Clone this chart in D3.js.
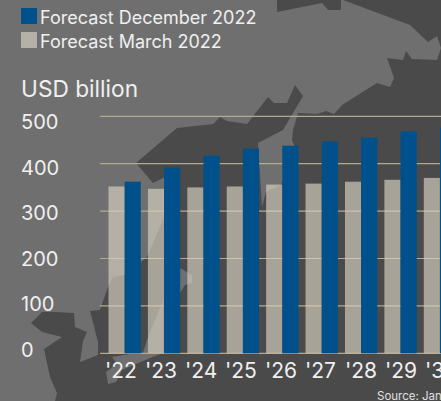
<!DOCTYPE html>
<html>
<head>
<meta charset="utf-8">
<script src="https://cdn.jsdelivr.net/npm/d3@7"></script>
<style>
html, body { margin: 0; padding: 0; background: #4a4a4a; overflow: hidden; }
svg { display: block; font-family: Inter, sans-serif; }
</style>
</head>
<body>
<div id="chart"></div>
<script>
// values, USD billion
var years = ["'22", "'23", "'24", "'25", "'26", "'27", "'28", "'29", "'30"];
var forecastMarch = [352, 347, 350, 352, 356, 358, 362, 366, 370];
var forecastDecember = [362, 392, 417, 432, 438, 447, 455, 468, 476];
var yTicks = [0, 100, 200, 300, 400, 500];
var legendLabels = ["Forecast December 2022", "Forecast March 2022"];

// backdrop map, only decoration behind the chart
var landShapes = [
    // Asian mainland with Korea and the Russian coast
    [[0,0],[277,0],[277,12],[322,3],[328,10],[341,10],[341,0],[343,0],[410,25],[428,42],[437,36],[441,48],[437,60],[412,59],[406,51],[403,60],[387,58],[394,78],[390,87],[377,83],[342,105],[334,114],[326,111],[317,114],[298,113],[293,130],[292,140],[295,147],[281,185],[266,192],[262,207],[258,143],[283,130],[303,96],[295,85],[287,103],[274,103],[268,97],[247,124],[227,121],[220,117],[213,124],[177,128],[136,163],[153,183],[165,177],[165,215],[147,257],[141,262],[125,275],[113,277],[108,287],[100,310],[90,311],[98,342],[98,355],[80,362],[83,341],[87,332],[75,327],[74,313],[55,312],[42,312],[31,323],[42,332],[62,337],[44,349],[50,377],[57,393],[55,401],[0,401]],
    // Hokkaido
    [[165,282],[180,268],[192,275],[192,283],[185,285],[180,293],[165,296]],
    // Honshu, Shikoku, Kyushu
    [[163,300],[147,340],[143,353],[130,354],[112,357],[117,364],[106,372],[108,384],[116,382],[122,370],[150,358],[163,353]]
];

var width = 441, height = 401;
var y0 = 353.3, y500 = 116.3;

var svg = d3.select("#chart").append("svg")
    .attr("width", width)
    .attr("height", height);

svg.append("rect")
    .attr("width", width)
    .attr("height", height)
    .attr("fill", "#4a4a4a");

svg.selectAll("path.land").data(landShapes).enter().append("path")
    .attr("class", "land")
    .attr("d", d3.line())
    .attr("fill", "#6f6f6f");

var x = d3.scaleBand()
    .domain(years)
    .range([108.5, 108.5 + 39.4 * 9 - 7])
    .paddingInner(0.18)
    .paddingOuter(0);

var xSeries = d3.scaleBand()
    .domain(["march", "december"])
    .range([0, x.bandwidth()]);

// year labels run on a slightly wider step than the bars
var xLabel = d3.scalePoint()
    .domain(years)
    .range([105, 425]);

var y = d3.scaleLinear()
    .domain([0, 500])
    .range([y0, y500]);

// the labels are spaced a bit tighter than the gridlines in the original
var yLabel = d3.scaleLinear()
    .domain([0, 500])
    .range([357, 129]);

// gridlines first, the grey bars let them show through
svg.selectAll("line.grid").data(yTicks).enter().append("line")
    .attr("class", "grid")
    .attr("x1", 100)
    .attr("x2", width)
    .attr("y1", function(d) { return y(d); })
    .attr("y2", function(d) { return y(d); })
    .attr("stroke", "#b5a98f")
    .attr("stroke-width", 1.2);

svg.selectAll("text.ytick").data(yTicks).enter().append("text")
    .attr("class", "ytick")
    .attr("x", 21)
    .attr("y", function(d) { return yLabel(d); })
    .attr("font-size", 20)
    .attr("fill", "#f0f0f0")
    .text(function(d) { return d; });

svg.selectAll("rect.march").data(forecastMarch).enter().append("rect")
    .attr("class", "march")
    .attr("x", function(d, i) { return x(years[i]) + xSeries("march"); })
    .attr("y", function(d) { return y(d); })
    .attr("width", xSeries.bandwidth())
    .attr("height", function(d) { return y0 - y(d); })
    .attr("fill", "#dad3c2")
    .attr("opacity", 0.65);

svg.selectAll("rect.december").data(forecastDecember).enter().append("rect")
    .attr("class", "december")
    .attr("x", function(d, i) { return x(years[i]) + xSeries("december"); })
    .attr("y", function(d) { return y(d); })
    .attr("width", xSeries.bandwidth())
    .attr("height", function(d) { return y0 - y(d); })
    .attr("fill", "#00508c");

svg.selectAll("text.xtick").data(years).enter().append("text")
    .attr("class", "xtick")
    .attr("x", function(d) { return xLabel(d); })
    .attr("y", 378)
    .attr("font-size", 21)
    .attr("fill", "#f0f0f0")
    .text(function(d) { return d; });

var legendColors = ["#00508c", "#b5b1a9"];

svg.selectAll("rect.legend").data(legendLabels).enter().append("rect")
    .attr("class", "legend")
    .attr("x", 21)
    .attr("y", function(d, i) { return 8 + i * 24; })
    .attr("width", 16)
    .attr("height", 16)
    .attr("fill", function(d, i) { return legendColors[i]; });

svg.selectAll("text.legend").data(legendLabels).enter().append("text")
    .attr("class", "legend")
    .attr("x", 40)
    .attr("y", function(d, i) { return 24 + i * 24; })
    .attr("font-size", 18)
    .attr("fill", "#f0f0f0")
    .text(function(d) { return d; });

svg.append("text")
    .attr("x", 21)
    .attr("y", 97)
    .attr("font-size", 22.7)
    .attr("fill", "#f0f0f0")
    .text("USD billion");

svg.append("text")
    .attr("x", 377)
    .attr("y", 400)
    .attr("font-size", 11.5)
    .attr("fill", "#e0e0e0")
    .text("Source: Janes");
</script>
</body>
</html>
